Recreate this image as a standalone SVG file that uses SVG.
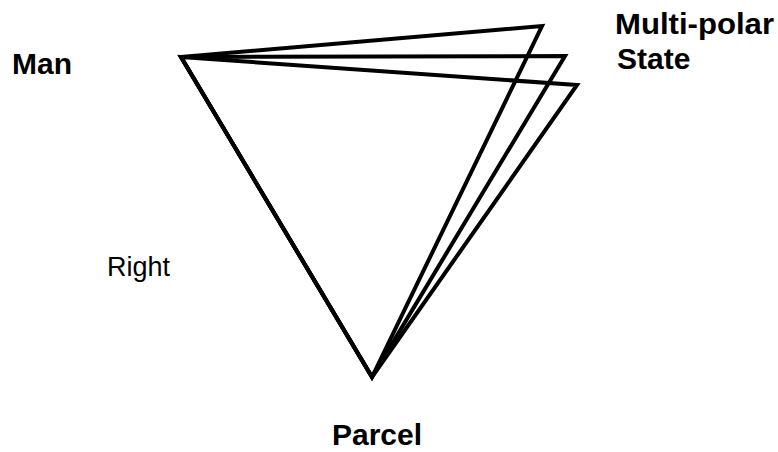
<svg xmlns="http://www.w3.org/2000/svg" width="778" height="452" viewBox="0 0 778 452">
<style>
.tri{fill:none;stroke:#000;stroke-width:4;stroke-linejoin:miter;stroke-miterlimit:20}
.lb{font-family:"Liberation Sans",Arial,sans-serif;font-weight:bold;font-size:30px;fill:#000}
.lr{font-family:"Liberation Sans",Arial,sans-serif;font-size:27px;fill:#000}
</style>
<rect width="778" height="452" fill="#fff"/>
<g id="connectors">
<polygon class="tri" points="181,57 542,26 372,377"/>
<polygon class="tri" points="181,57 565,56 372,377"/>
<polygon class="tri" points="181,57 577,85 372,377"/>
</g>
<g id="man"><text class="lb" x="12" y="74">Man</text></g>
<g id="state"><text class="lb" x="615" y="34" textLength="159" lengthAdjust="spacingAndGlyphs">Multi-polar</text><text class="lb" x="617" y="69">State</text></g>
<g id="parcel"><text class="lb" x="332" y="445">Parcel</text></g>
<g id="right"><text class="lr" x="107" y="276">Right</text></g>
</svg>
